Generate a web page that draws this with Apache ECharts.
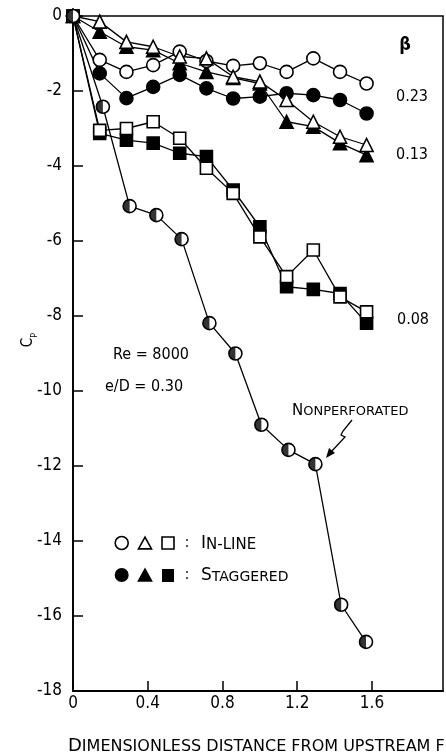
<!DOCTYPE html>
<html>
<head>
<meta charset="utf-8">
<script src="https://cdn.jsdelivr.net/npm/echarts@6/dist/echarts.min.js"></script>
<style>html,body{margin:0;padding:0;background:#fff;}#c{width:446px;height:756px;}</style>
</head>
<body>
<div id="c"></div>
<script>
// Fin positions (dimensionless distance from upstream fin)
var xs = [0, 0.143, 0.286, 0.429, 0.571, 0.714, 0.857, 1.0, 1.143, 1.286, 1.429, 1.571];
var xsNonperf = [0, 0.160, 0.303, 0.446, 0.581, 0.730, 0.869, 1.008, 1.153, 1.297, 1.435, 1.568];

// beta = 0.23
var inline023 = [0, -1.17, -1.49, -1.31, -0.95, -1.2, -1.33, -1.26, -1.49, -1.13, -1.49, -1.80];
var stag023   = [0, -1.53, -2.19, -1.89, -1.57, -1.93, -2.2, -2.15, -2.06, -2.11, -2.24, -2.6];
// beta = 0.13
var inline013 = [0, -0.15, -0.69, -0.82, -1.08, -1.13, -1.62, -1.75, -2.24, -2.82, -3.22, -3.44];
var stag013   = [0, -0.42, -0.82, -0.91, -1.26, -1.49, -1.65, -1.8, -2.82, -2.95, -3.39, -3.71];
// beta = 0.08
var inline008 = [0, -3.05, -3.0, -2.82, -3.26, -4.06, -4.73, -5.89, -6.95, -6.24, -7.49, -7.89];
var stag008   = [0, -3.13, -3.31, -3.39, -3.66, -3.75, -4.64, -5.62, -7.22, -7.29, -7.40, -8.19];
// nonperforated
var nonperf   = [0, -2.42, -5.07, -5.31, -5.95, -8.19, -9.0, -10.9, -11.57, -11.95, -15.7, -16.69];

var xTicks = [0, 0.4, 0.8, 1.2, 1.6];
var yTicks = [0, -2, -4, -6, -8, -10, -12, -14, -16, -18];

var FONT = "'DejaVu Sans Condensed', 'DejaVu Sans', sans-serif";
var SC = "'DejaVu Sans', sans-serif";

function pairs(x, y) { return y.map(function (v, i) { return [x[i], v]; }); }

function lineSeries(name, x, y, symbol, filled, size) {
  return {
    name: name, type: 'line', data: pairs(x, y),
    symbol: symbol, symbolSize: size,
    lineStyle: { color: '#000', width: 1.3 },
    itemStyle: { color: filled ? '#000' : '#fff', borderColor: '#000', borderWidth: 1.6 },
    animation: false, z: filled ? 3 : 4
  };
}

var chart = echarts.init(document.getElementById('c'), null, { renderer: 'canvas' });

var series = [
  lineSeries('In-line 0.23', xs, inline023, 'circle', false, 13),
  lineSeries('Staggered 0.23', xs, stag023, 'circle', true, 13),
  lineSeries('In-line 0.13', xs, inline013, 'triangle', false, 13),
  lineSeries('Staggered 0.13', xs, stag013, 'triangle', true, 13),
  lineSeries('In-line 0.08', xs, inline008, 'rect', false, 12),
  lineSeries('Staggered 0.08', xs, stag008, 'rect', true, 12),
  lineSeries('Nonperforated', xsNonperf, nonperf, 'circle', false, 13),
  {
    name: 'Nonperforated half', type: 'scatter', data: pairs(xsNonperf, nonperf),
    symbol: 'path://M10,0 A10,10 0 0 0 10,20 Z', symbolSize: [6.5, 13], symbolOffset: [-3.25, 0],
    itemStyle: { color: '#000' }, animation: false, z: 5
  }
];

function rt(x, y, parts, align) {
  return { type: 'text', x: x, y: y, silent: true,
    style: { text: parts.text, rich: parts.rich, align: align || 'left', verticalAlign: 'middle', fill: '#000' } };
}
function scText(x, y, big, small, bigSize, smallSize) {
  return rt(x, y, {
    text: '{b|' + big + '}{s|' + small + '}',
    rich: {
      b: { fontFamily: SC, fontSize: bigSize, lineHeight: bigSize + 2, verticalAlign: 'bottom', fill: '#000' },
      s: { fontFamily: SC, fontSize: smallSize, lineHeight: bigSize + 2, verticalAlign: 'bottom', fill: '#000' }
    }
  });
}
function plain(x, y, txt, size, align, weight) {
  return { type: 'text', x: x, y: y, silent: true,
    style: { text: txt, fontFamily: FONT, fontSize: size, fontWeight: weight || 'normal', fill: '#000', align: align || 'left', verticalAlign: 'middle' } };
}
function tri(cx, cy, s, fill) {
  var h = s * 0.9;
  return { type: 'polygon', silent: true, shape: { points: [[cx, cy - h / 2], [cx + s / 2, cy + h / 2], [cx - s / 2, cy + h / 2]] },
    style: { fill: fill, stroke: '#000', lineWidth: 1.6 } };
}

var graphics = [
  // beta labels
  plain(405, 45, 'β', 18, 'center', 'bold'),
  plain(412, 97, '0.23', 16, 'center'),
  plain(412, 155, '0.13', 16, 'center'),
  plain(413, 320, '0.08', 16, 'center'),
  // conditions
  plain(113, 355, 'Re = 8000', 16, 'left'),
  plain(105, 387, 'e/D = 0.30', 16, 'left'),
  // nonperforated label and arrow
  scText(292, 410, 'N', 'ONPERFORATED', 15, 13),
  { type: 'polyline', silent: true, shape: { points: [[352, 420], [343, 431], [341, 435], [345, 437], [331, 452]] },
    style: { stroke: '#000', lineWidth: 1.3, fill: null } },
  { type: 'polygon', silent: true, shape: { points: [[326, 458], [329, 448], [335, 453]] }, style: { fill: '#000' } },
  // legend
  { type: 'circle', silent: true, shape: { cx: 121.7, cy: 543, r: 6.5 }, style: { fill: '#fff', stroke: '#000', lineWidth: 1.6 } },
  tri(145, 543, 13, '#fff'),
  { type: 'rect', silent: true, shape: { x: 162, y: 537, width: 12, height: 12 }, style: { fill: '#fff', stroke: '#000', lineWidth: 1.6 } },
  plain(187, 543, ':', 15, 'center'),
  scText(201, 543, 'I', 'N-LINE', 17, 15),
  { type: 'circle', silent: true, shape: { cx: 121.7, cy: 575, r: 7 }, style: { fill: '#000' } },
  tri(145, 575, 13, '#000'),
  { type: 'rect', silent: true, shape: { x: 162, y: 569, width: 12, height: 13 }, style: { fill: '#000' } },
  plain(187, 575, ':', 15, 'center'),
  scText(201, 575, 'S', 'TAGGERED', 17, 14),
  // x axis title
  scText(68, 745, 'D', 'IMENSIONLESS DISTANCE FROM UPSTREAM FIN', 18, 16),
  // y axis name C_P
  { type: 'text', x: 30, y: 340, rotation: Math.PI / 2, silent: true,
    style: { text: '{c|C}{p|P}', align: 'center', verticalAlign: 'middle',
      rich: { c: { fontFamily: FONT, fontSize: 15, lineHeight: 18, verticalAlign: 'top', fill: '#000' },
              p: { fontFamily: FONT, fontSize: 9, lineHeight: 18, verticalAlign: 'bottom', fill: '#000' } } } }
];

chart.setOption({
  animation: false,
  backgroundColor: '#fff',
  grid: { left: 73, right: 3, top: 16, bottom: 65, show: true, borderColor: '#000', borderWidth: 1.5, backgroundColor: 'transparent' },
  xAxis: {
    type: 'value', min: 0, max: 1.98, interval: 0.4,
    axisLine: { show: true, onZero: false, lineStyle: { color: '#000', width: 1.8 } },
    axisTick: { show: true, inside: true, length: 10, lineStyle: { color: '#000', width: 1.5 } },
    axisLabel: { showMaxLabel: false, color: '#000', fontFamily: FONT, fontSize: 17, margin: 4,
      formatter: function (v) { return xTicks.indexOf(Math.round(v * 10) / 10) >= 0 ? (v === 0 ? '0' : v.toFixed(1)) : ''; } },
    splitLine: { show: false }
  },
  yAxis: {
    type: 'value', min: -18, max: 0, interval: 2,
    axisLine: { show: true, onZero: false, lineStyle: { color: '#000', width: 1.8 } },
    axisTick: { show: true, inside: true, length: 10, lineStyle: { color: '#000', width: 1.5 } },
    axisLabel: { color: '#000', fontFamily: FONT, fontSize: 17, margin: 11,
      formatter: function (v) { return yTicks.indexOf(v) >= 0 ? String(v) : ''; } },
    splitLine: { show: false }
  },
  series: series,
  graphic: graphics
});
</script>
</body>
</html>
